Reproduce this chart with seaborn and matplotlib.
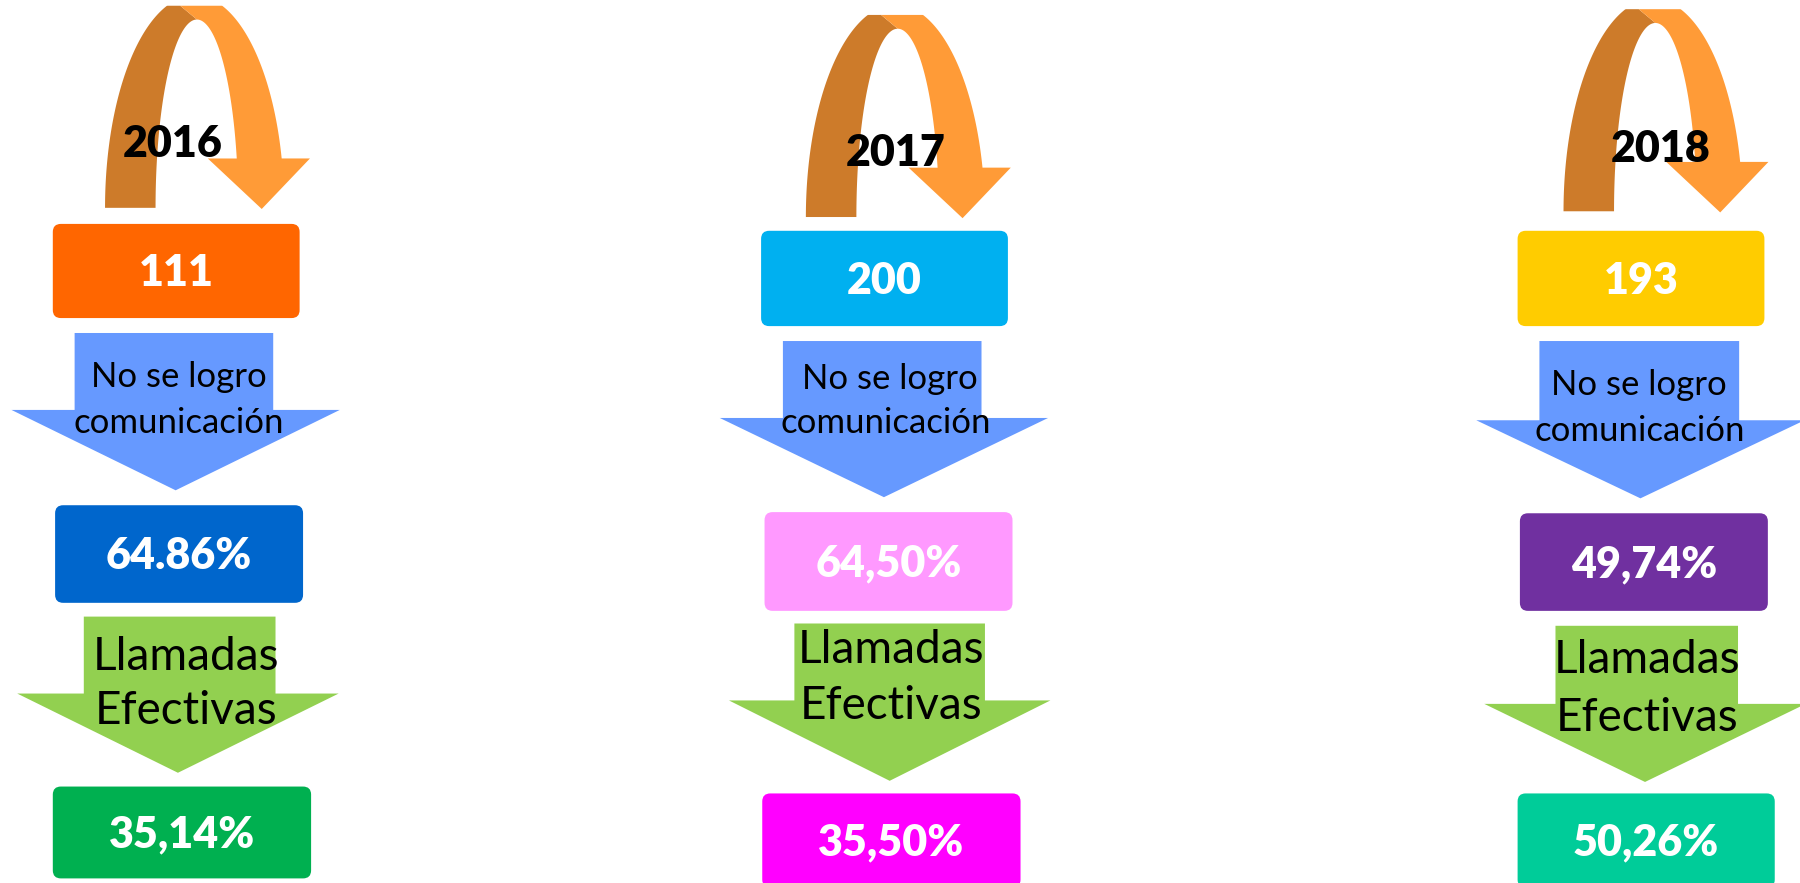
import numpy as np
import matplotlib.pyplot as plt
import seaborn as sns
from matplotlib.patches import Polygon, FancyBboxPatch

# Data
years = ["2016", "2017", "2018"]
totals = ["111", "200", "193"]
no_comm = ["64.86%", "64,50%", "49,74%"]
effective = ["35,14%", "35,50%", "50,26%"]

total_colors = ["#FF6600", "#00B0F0", "#FFCC00"]
no_comm_colors = ["#0066CC", "#FF99FF", "#7030A0"]
effective_colors = ["#00B050", "#FF00FF", "#00CC99"]

# Layout (canvas units: 1568 x 769, y down)
arc_anchor = [(91.5, 181), (702, 189), (1362, 184)]
year_pos = [(150, 125), (780, 133), (1447, 130)]
box_total = [(46, 195, 215, 82), (663, 201, 215, 83), (1322, 201, 215, 83)]
box_nocomm = [(48, 440, 216, 85), (666, 446, 216, 86), (1324, 447, 216, 85)]
box_eff = [(46, 685, 225, 80), (664, 691, 225, 82), (1322, 691, 224, 82)]
# shaft left, shaft right, top, head y, head half width, tip x, tip y
blue_arr = [(65, 238, 290, 357, 143, 153, 427),
            (682, 855, 297, 364, 143, 770, 433),
            (1341, 1515, 297, 366, 143, 1429, 434)]
green_arr = [(73, 240, 537, 604, 140, 155, 673),
             (692, 858, 543, 610, 140, 775, 680),
             (1355, 1514, 545, 613, 140, 1433, 681)]
blue_txt = [((156, 328), (156, 368)), ((775, 330), (772, 368)), ((1428, 335), (1428, 375))]
green_txt = [((162, 572), (162, 619)), ((776, 566), (776, 615)), ((1435, 575), (1435, 625))]

sns.set_theme(style="white")
plt.rcParams["font.family"] = ["Lato", "DejaVu Sans"]
plt.rcParams["text.color"] = "black"

fig = plt.figure(figsize=(18, 8.83), dpi=100)
ax = fig.add_axes([0, 0, 1, 1])
ax.set_xlim(0, 1568)
ax.set_ylim(769, 0)
ax.axis("off")

DARK = "#CD7B2A"
LIGHT = "#FF9B37"


def curved_arrow(x0, yb):
    cx, ao, bo, top = 78, 78, 185, -176
    ai, bi = 36, 164
    split = 65.5
    # outer edge
    t = np.linspace(np.pi, 0.2346, 300)
    ox = cx + ao * np.cos(t)
    oy = np.maximum(-bo * np.sin(t), top)
    # inner edge
    ti = np.linspace(0.265, np.pi, 300)
    ix = cx + 2 + ai * np.cos(ti)
    iy = -bi * np.sin(ti)
    left = ox <= split
    right = ox >= split
    ti_r = ti <= np.pi / 2
    ti_l = ti >= np.pi / 2
    dark = list(zip(ox[left], oy[left])) + [(split, top), (80, -164)] + \
        list(zip(ix[ti_l], iy[ti_l]))
    light = [(split, top)] + list(zip(ox[right], oy[right])) + \
        [(178.5, -43), (136.5, 1), (89.5, -43)] + \
        list(zip(ix[ti_r], iy[ti_r])) + [(80, -164)]
    for pts, col in [(dark, DARK), (light, LIGHT)]:
        pts = [(x0 + px, yb + py) for px, py in pts]
        ax.add_patch(Polygon(pts, closed=True, facecolor=col, edgecolor="none", zorder=1))


def down_arrow(spec, color):
    sl, sr, top, hy, hw, tx, ty = spec
    pts = [(sl, top), (sr, top), (sr, hy), (tx + hw, hy), (tx, ty), (tx - hw, hy), (sl, hy)]
    ax.add_patch(Polygon(pts, closed=True, facecolor=color, edgecolor="none", zorder=1))


def box(rect, color, label):
    x, y, w, h = rect
    ax.add_patch(FancyBboxPatch((x, y), w, h, boxstyle="round,pad=0,rounding_size=7",
                                facecolor=color, edgecolor="none", zorder=2))
    ax.text(x + w / 2, y + h / 2 + 2, label, color="white", fontsize=31, fontweight="heavy",
            ha="center", va="center", zorder=3)


for i in range(3):
    curved_arrow(*arc_anchor[i])
    ax.text(*year_pos[i], years[i], fontsize=31, fontweight="heavy", color="black",
            ha="center", va="center", zorder=3)
    box(box_total[i], total_colors[i], totals[i])
    down_arrow(blue_arr[i], "#6699FF")
    ax.text(*blue_txt[i][0], "No se logro", fontsize=25, color="black",
            ha="center", va="center", zorder=3)
    ax.text(*blue_txt[i][1], "comunicación", fontsize=25, color="black",
            ha="center", va="center", zorder=3)
    box(box_nocomm[i], no_comm_colors[i], no_comm[i])
    down_arrow(green_arr[i], "#92D050")
    ax.text(*green_txt[i][0], "Llamadas", fontsize=33, color="black",
            ha="center", va="center", zorder=3)
    ax.text(*green_txt[i][1], "Efectivas", fontsize=33, color="black",
            ha="center", va="center", zorder=3)
    box(box_eff[i], effective_colors[i], effective[i])

fig.savefig("out.png", dpi=100)
